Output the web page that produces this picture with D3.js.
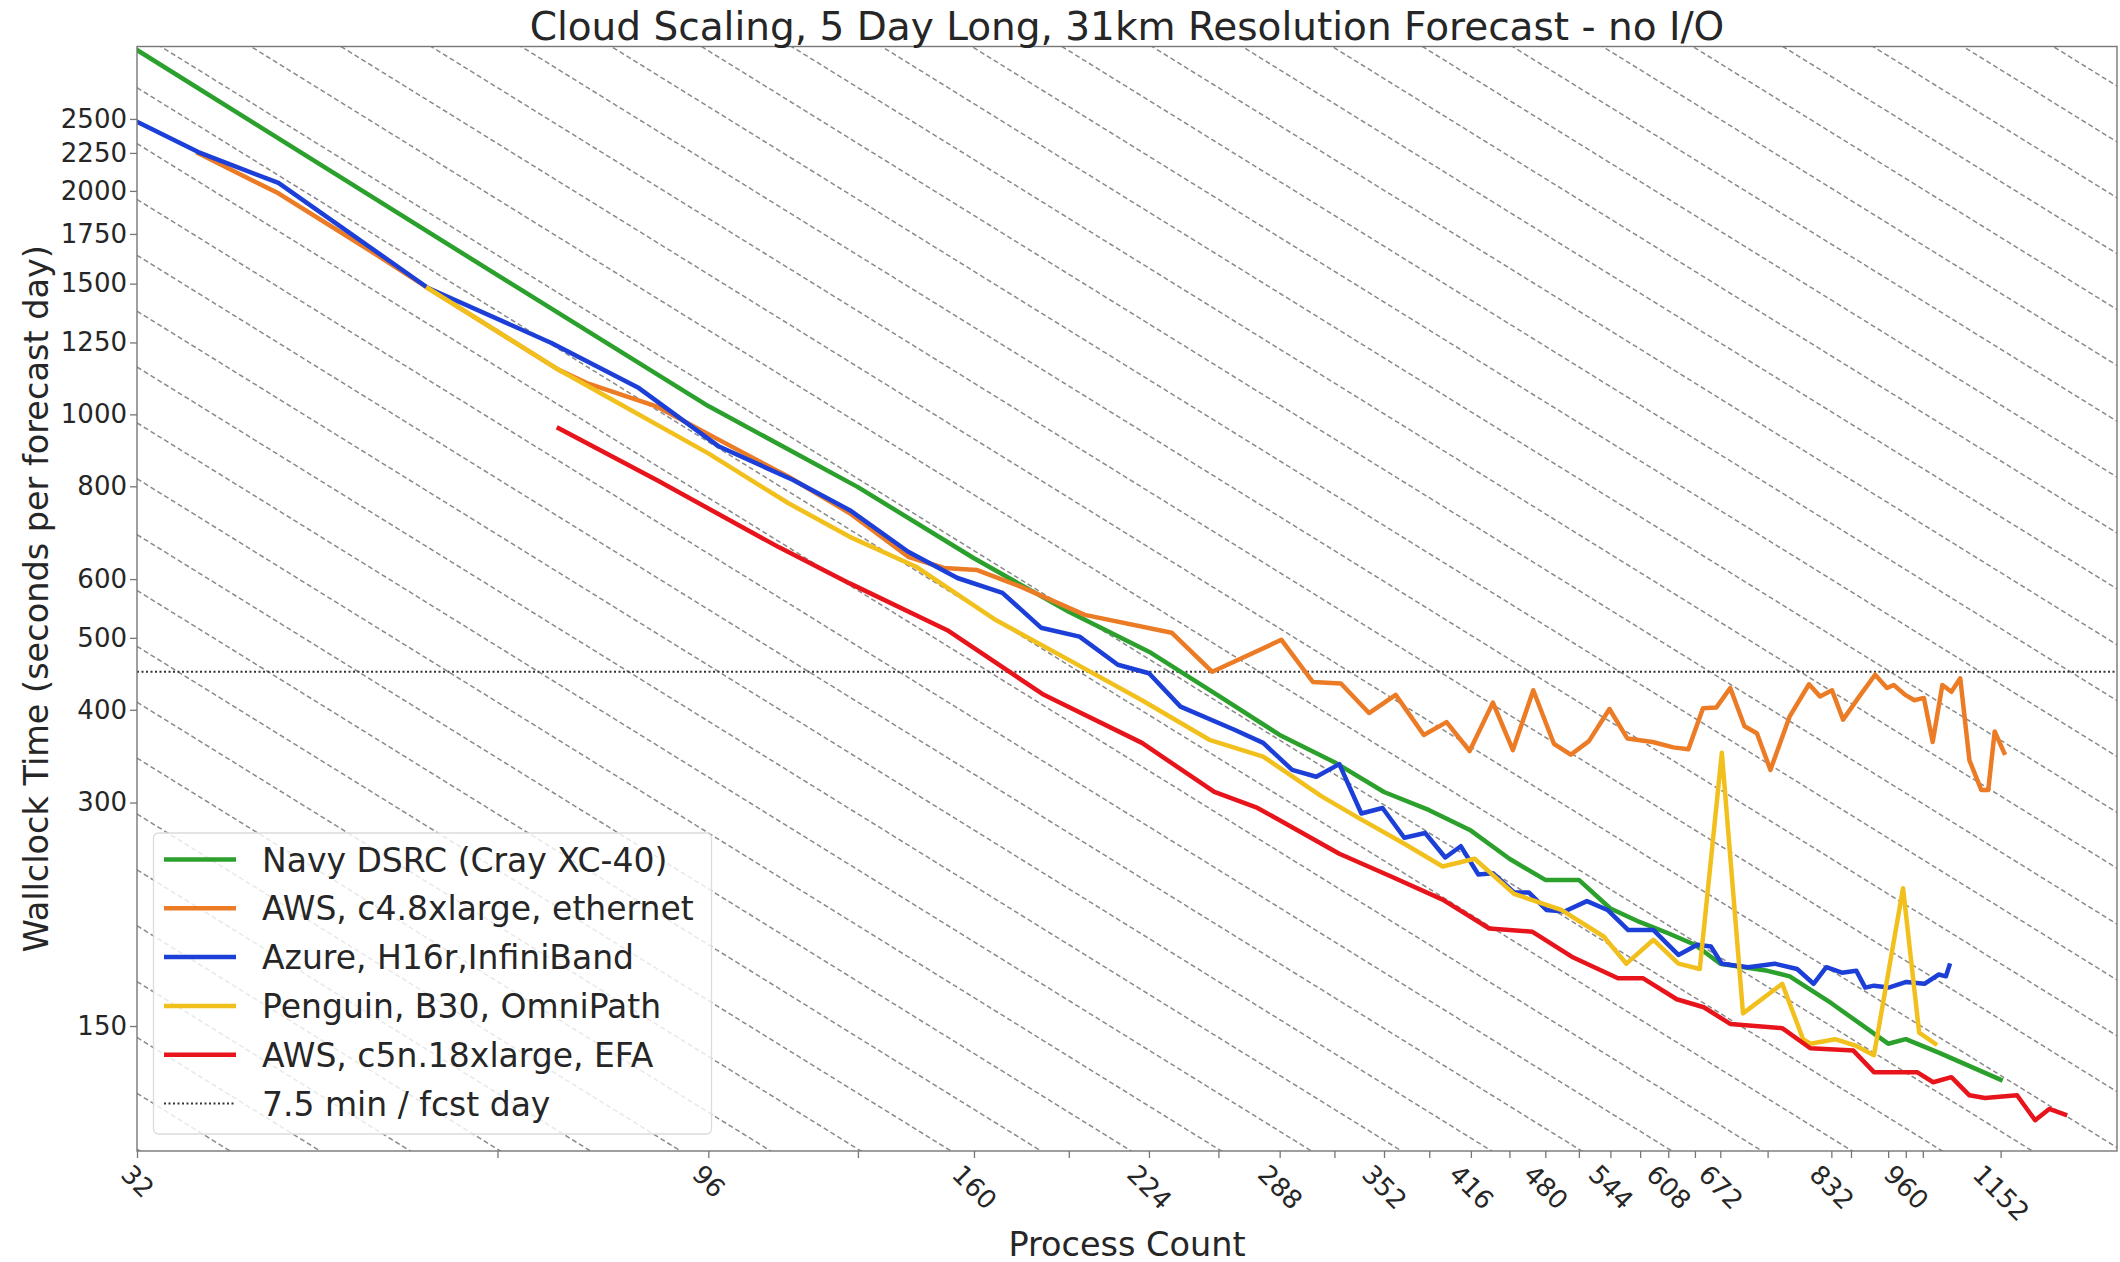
<!DOCTYPE html>
<html>
<head>
<meta charset="utf-8">
<script src="https://cdn.jsdelivr.net/npm/d3@7"></script>
<style>
body { margin: 0; background: #fff; }
text { font-family: "DejaVu Sans", sans-serif; fill: #262626; }
</style>
</head>
<body>
<svg id="chart" width="2120" height="1262"></svg>
<script>
// Navy DSRC (Cray XC-40)
var navyProcs = [32, 64, 96, 128, 160, 192, 224, 256, 288, 320, 352, 384, 416, 448, 480, 512, 544, 576, 608, 640, 672, 736, 768, 832, 928, 960, 1024, 1152];
var navyTime = [3096, 1540, 1026, 798, 640, 542, 479, 418, 370, 340, 310, 293, 275, 252, 236, 236, 216, 207, 200, 193, 182, 178, 175, 161, 142, 144, 138, 127];
// AWS c4.8xlarge, ethernet
var c4Procs = [36, 42, 50, 56, 72, 76, 87, 98, 112, 126, 141, 151, 161, 175, 198, 234, 253, 289, 307, 324, 342, 360, 380, 397, 415, 434, 451, 469, 488, 504, 522, 543, 562, 590, 614, 632, 650, 667, 685, 704, 721, 740, 768, 797, 814, 833, 851, 878, 905, 926, 938, 959, 976, 994, 1011, 1030, 1048, 1066, 1085, 1110, 1125, 1139, 1160];
var c4Time = [2247, 1985, 1665, 1479, 1148, 1102, 1024, 924, 824, 736, 643, 621, 617, 586, 537, 508, 450, 497, 436, 434, 396, 419, 370, 385, 352, 409, 353, 425, 360, 348, 363, 401, 366, 362, 356, 354, 402, 403, 428, 380, 372, 332, 392, 433, 417, 425, 388, 417, 446, 428, 432, 419, 412, 415, 362, 432, 423, 441, 342, 312, 312, 374, 350];
// Azure H16r, InfiniBand
var azureProcs = [32, 36, 42, 56, 71, 84, 98, 113, 126, 141, 155, 169, 182, 196, 211, 224, 238, 264, 279, 295, 309, 323, 337, 351, 366, 381, 396, 408, 422, 434, 452, 465, 481, 498, 520, 541, 563, 591, 620, 643, 660, 674, 709, 746, 779, 804, 824, 849, 873, 888, 903, 929, 961, 995, 1023, 1037, 1044];
var azureTime = [2479, 2256, 2050, 1480, 1248, 1085, 905, 816, 743, 653, 602, 575, 516, 502, 460, 448, 404, 376, 361, 332, 325, 338, 290, 295, 269, 273, 253, 262, 240, 241, 227, 227, 215, 214, 221, 215, 202, 202, 187, 193, 192, 182, 180, 182, 179, 171, 180, 177, 178, 169, 170, 169, 172, 171, 176, 175, 181];
// Penguin B30, OmniPath
var penguinProcs = [56, 72, 79, 96, 112, 126, 143, 167, 192, 221, 252, 279, 312, 334, 366, 394, 419, 452, 495, 537, 561, 591, 620, 646, 674, 702, 757, 788, 799, 838, 873, 903, 955, 985, 1016];
var penguinTime = [1479, 1148, 1056, 886, 759, 684, 624, 528, 467, 412, 364, 346, 306, 287, 264, 246, 252, 226, 215, 198, 182, 196, 182, 179, 350, 156, 171, 144, 142, 144, 141, 137, 230, 147, 142];
// AWS c5n.18xlarge, EFA
var c5nProcs = [72, 87, 110, 126, 152, 183, 221, 254, 276, 288, 323, 358, 394, 431, 468, 505, 552, 579, 618, 651, 685, 757, 799, 868, 903, 961, 981, 1012, 1048, 1085, 1118, 1189, 1231, 1265, 1304];
var c5nTime = [958, 815, 662, 592, 512, 419, 361, 310, 295, 284, 256, 238, 222, 203, 201, 186, 174, 174, 163, 159, 151, 149, 140, 139, 130, 130, 130, 126, 128, 121, 120, 121, 112, 116, 114];

var seriesNames = ["Navy DSRC (Cray XC-40)", "AWS, c4.8xlarge, ethernet", "Azure, H16r,InfiniBand", "Penguin, B30, OmniPath", "AWS, c5n.18xlarge, EFA"];
var seriesColors = ["#2ca02c", "#ec7b26", "#1c3fd8", "#f2c01c", "#e8141c"];
var targetName = "7.5 min / fcst day";
var targetTime = 450;

// ticks
var xTickValues = [32, 64, 96, 128, 160, 192, 224, 256, 288, 320, 352, 384, 416, 448, 480, 512, 544, 576, 608, 640, 672, 736, 832, 864, 928, 960, 992, 1152];
var xTickLabels = [32, 96, 160, 224, 288, 352, 416, 480, 544, 608, 672, 832, 960, 1152];
var yTickValues = [150, 300, 400, 500, 600, 800, 1000, 1250, 1500, 1750, 2000, 2250, 2500];

// ideal scaling guide lines: seconds at 32 procs, 4 lines per doubling
var refBase = 487;
var refSteps = d3.range(-24, 34);

var plotLeft = 137, plotRight = 2117, plotTop = 46.5, plotBottom = 1151;
var svg = d3.select("#chart");

var x = d3.scaleLog().domain([32, 1441]).range([plotLeft, plotRight]);
var y = d3.scaleLog().domain([101.8, 3130]).range([plotBottom, plotTop]);

svg.append("clipPath").attr("id", "plotclip")
    .append("rect").attr("x", plotLeft).attr("y", plotTop)
    .attr("width", plotRight - plotLeft).attr("height", plotBottom - plotTop);

var plot = svg.append("g").attr("clip-path", "url(#plotclip)");

// guide lines
var line = d3.line()
    .x(function(d) { return x(d[0]); })
    .y(function(d) { return y(d[1]); });

refSteps.forEach(function(k) {
    var t0 = refBase * Math.pow(2, k / 4);
    plot.append("path")
        .datum([[32, t0], [1441, t0 * 32 / 1441]])
        .attr("d", line)
        .attr("fill", "none")
        .attr("stroke", "#8a8a8a")
        .attr("stroke-width", 1.5)
        .attr("stroke-dasharray", "5,3");
});

// 7.5 min target
plot.append("path")
    .datum([[32, targetTime], [1441, targetTime]])
    .attr("d", line)
    .attr("fill", "none")
    .attr("stroke", "#333")
    .attr("stroke-width", 2)
    .attr("stroke-dasharray", "2,2.5");

// the series
var series = [
    [navyProcs, navyTime],
    [c4Procs, c4Time],
    [azureProcs, azureTime],
    [penguinProcs, penguinTime],
    [c5nProcs, c5nTime]
];

series.forEach(function(s, i) {
    var pts = s[0].map(function(p, j) { return [p, s[1][j]]; });
    plot.append("path")
        .datum(pts)
        .attr("d", line)
        .attr("fill", "none")
        .attr("stroke", seriesColors[i])
        .attr("stroke-width", 4.5)
        .attr("stroke-linejoin", "round")
        .attr("stroke-linecap", "square");
});

// frame
svg.append("rect")
    .attr("x", plotLeft).attr("y", plotTop)
    .attr("width", plotRight - plotLeft).attr("height", plotBottom - plotTop)
    .attr("fill", "none").attr("stroke", "#777").attr("stroke-width", 1.4);

// x axis
var xAxis = svg.append("g")
    .attr("transform", "translate(0," + plotBottom + ")")
    .call(d3.axisBottom(x)
        .tickValues(xTickValues)
        .tickSize(7)
        .tickFormat(function(d) { return xTickLabels.indexOf(d) >= 0 ? d : ""; }));
xAxis.select(".domain").remove();
xAxis.selectAll("line").attr("stroke", "#777").attr("stroke-width", 1.3);
xAxis.selectAll("text")
    .attr("font-size", 26)
    .attr("fill", "#262626")
    .attr("font-family", "DejaVu Sans")
    .attr("text-anchor", "middle")
    .attr("dominant-baseline", "central")
    .attr("dy", null)
    .attr("x", 0)
    .attr("y", 0)
    .attr("transform", function() {
        var w = this.getComputedTextLength();
        var c = (w + 19) * 0.3536 + 12;
        return "translate(0," + c + ") rotate(45)";
    });

// y axis
var yAxis = svg.append("g")
    .attr("transform", "translate(" + plotLeft + ",0)")
    .call(d3.axisLeft(y)
        .tickValues(yTickValues)
        .tickSize(7)
        .tickPadding(3)
        .tickFormat(d3.format("d")));
yAxis.select(".domain").remove();
yAxis.selectAll("line").attr("stroke", "#777").attr("stroke-width", 1.3);
yAxis.selectAll("text")
    .attr("font-size", 26)
    .attr("fill", "#262626")
    .attr("font-family", "DejaVu Sans");

// titles
svg.append("text")
    .attr("x", (plotLeft + plotRight) / 2).attr("y", 40)
    .attr("text-anchor", "middle")
    .attr("font-size", 39)
    .text("Cloud Scaling, 5 Day Long, 31km Resolution Forecast - no I/O");

svg.append("text")
    .attr("x", (plotLeft + plotRight) / 2).attr("y", 1256)
    .attr("text-anchor", "middle")
    .attr("font-size", 33.5)
    .text("Process Count");

svg.append("text")
    .attr("transform", "translate(48," + ((plotTop + plotBottom) / 2) + ") rotate(-90)")
    .attr("text-anchor", "middle")
    .attr("font-size", 33.5)
    .text("Wallclock Time (seconds per forecast day)");

// legend
var legend = svg.append("g");
legend.append("rect")
    .attr("x", 153.5).attr("y", 833)
    .attr("width", 558).attr("height", 301)
    .attr("rx", 5)
    .attr("fill", "#fff").attr("fill-opacity", 0.8)
    .attr("stroke", "#dcdcdc").attr("stroke-width", 1.3);

var legendItems = seriesNames.concat([targetName]);
legendItems.forEach(function(name, i) {
    var cy = 859.5 + i * 48.8;
    var h = legend.append("line")
        .attr("x1", 164).attr("x2", 236)
        .attr("y1", cy).attr("y2", cy);
    if (i < seriesNames.length) {
        h.attr("stroke", seriesColors[i]).attr("stroke-width", 4.5);
    } else {
        h.attr("stroke", "#333").attr("stroke-width", 2).attr("stroke-dasharray", "2,2.5");
    }
    legend.append("text")
        .attr("x", 262).attr("y", cy + 12)
        .attr("font-size", 33)
        .text(name);
});
</script>
</body>
</html>
